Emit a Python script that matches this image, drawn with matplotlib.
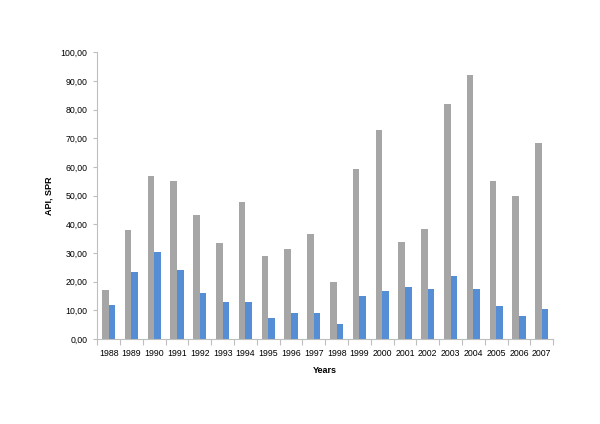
import matplotlib
matplotlib.use("Agg")
import matplotlib.pyplot as plt
import numpy as np
from matplotlib.ticker import FuncFormatter, FixedLocator, NullFormatter

years = [str(y) for y in range(1988, 2008)]
api = [17.0, 38.0, 56.7, 55.0, 43.2, 33.6, 47.9, 28.9, 31.2, 36.5,
       20.0, 59.2, 72.9, 33.8, 38.4, 82.0, 92.0, 55.1, 49.8, 68.5]
spr = [12.0, 23.5, 30.5, 24.0, 16.2, 13.0, 12.9, 7.3, 9.1, 8.9,
       5.2, 14.9, 16.8, 18.2, 17.6, 22.1, 17.3, 11.4, 8.1, 10.5]

plt.rcParams["font.family"] = ["Liberation Sans", "DejaVu Sans"]

fig = plt.figure(figsize=(6, 4.24), dpi=100)
ax = fig.add_axes([0.162, 0.2005, 0.76, 0.6765])

x = np.arange(len(years))
w = 0.29
ax.bar(x - w / 2, api, w, color="#a6a6a6", zorder=2)
ax.bar(x + w / 2, spr, w, color="#558ed5", zorder=2)

ax.set_xlim(-0.5, len(years) - 0.5)
ax.set_ylim(0, 100)
ax.set_yticks(np.arange(0, 101, 10))
ax.yaxis.set_major_formatter(FuncFormatter(lambda v, p: f"{v:.2f}".replace(".", ",")))

# years as labels at group centres, tick marks at group boundaries
ax.xaxis.set_major_locator(FixedLocator(np.arange(-0.5, len(years), 1.0)))
ax.xaxis.set_major_formatter(NullFormatter())
ax.xaxis.set_minor_locator(FixedLocator(x))
ax.set_xticklabels(years, minor=True)
ax.tick_params(axis="x", which="minor", length=0, labelsize=6.3, pad=7)
ax.tick_params(axis="x", which="major", length=4, color="#bfbfbf")
ax.tick_params(axis="y", length=3, color="#bfbfbf", labelsize=6.3, pad=4)

for s in ["top", "right"]:
    ax.spines[s].set_visible(False)
for s in ["left", "bottom"]:
    ax.spines[s].set_color("#bfbfbf")
    ax.spines[s].set_linewidth(0.8)

ax.set_xlabel("Years", fontsize=6.5, fontweight="bold", labelpad=6)
ax.set_ylabel("API, SPR", fontsize=6.5, fontweight="bold", labelpad=5)

fig.savefig("out.png", dpi=100)
